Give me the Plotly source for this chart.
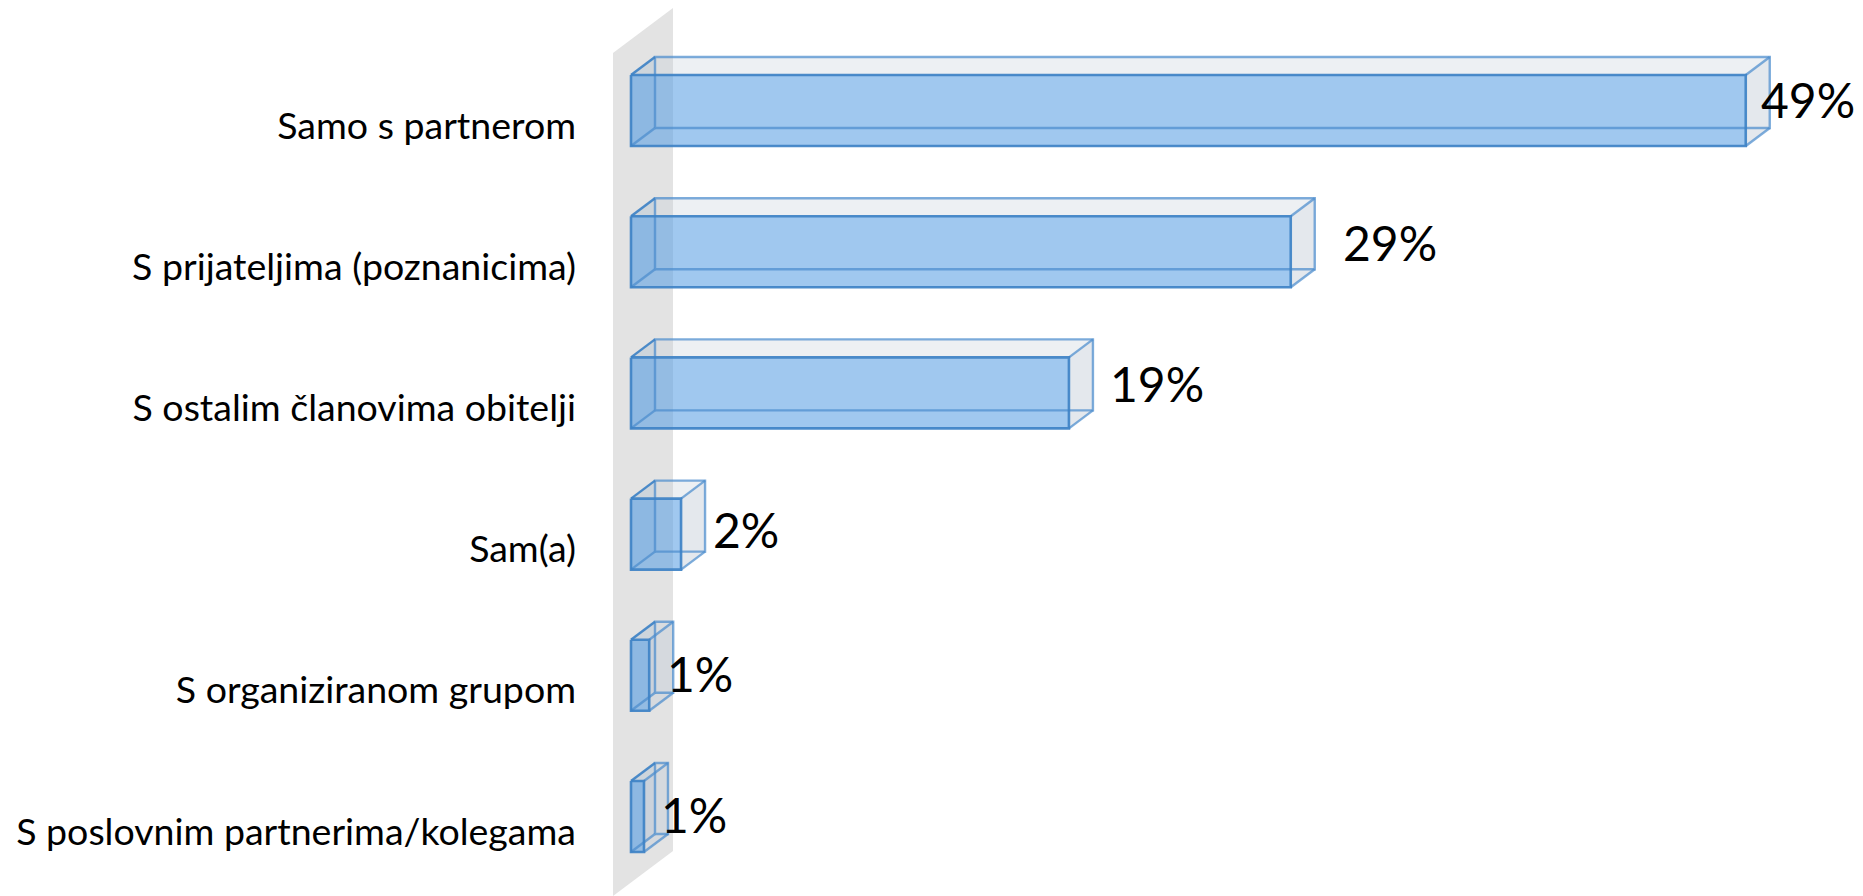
import plotly.graph_objects as go

categories = ["Samo s partnerom", "S prijateljima (poznanicima)", "S ostalim članovima obitelji",
              "Sam(a)", "S organiziranom grupom", "S poslovnim partnerima/kolegama"]
values = [49, 29, 19.25, 2.2, 0.8, 0.57]
value_labels = ["49%", "29%", "19%", "2%", "1%", "1%"]
label_shift_x = [13, 50, 39, 30, 16, 15]
label_shift_y = [-11, -9, -9, -5, -2, -2]

W, H = 1863, 896
PX = 22.75      # pixels per percent
PY = 141.2      # pixels per category
X0 = 631        # pixel of value 0
Y0 = 110.5      # pixel of first bar's centre
DX, DY = 24 / PX, 18 / PY       # 3D depth in data units
HALF = 35.5 / PY                # half bar height

FRONT = "rgba(91,160,228,0.58)"
TINT = "rgba(60,130,200,0.10)"
PALE = "rgba(195,205,215,0.30)"
SIDE = "rgba(195,205,215,0.45)"
EDGE = "rgba(62,130,198,0.92)"
BACK_EDGE = "rgba(75,140,205,0.72)"

fig = go.Figure()


def poly(xs, ys, fill):
    fig.add_trace(go.Scatter(x=xs + xs[:1], y=ys + ys[:1], mode="lines", fill="toself",
                             fillcolor=fill, line=dict(width=0), hoverinfo="skip", showlegend=False))


def edge(xs, ys, color, width):
    fig.add_trace(go.Scatter(x=xs, y=ys, mode="lines", line=dict(color=color, width=width),
                             hoverinfo="skip", showlegend=False))


# wall behind the bars
wx0, wx1 = -18 / PX, 42 / PX
wy_top = (53 - Y0) / PY
wy_bot = (896 - Y0) / PY
wdy = 45 / PY
poly([wx0, wx1, wx1, wx0], [wy_top, wy_top - wdy, wy_bot - wdy, wy_bot], "rgb(227,227,227)")

for i, v in enumerate(values):
    t, b = i - HALF, i + HALF
    poly([0, DX, DX, 0], [t, t - DY, b - DY, b], TINT)             # left face
    poly([0, v, v + DX, DX], [t, t, t - DY, t - DY], PALE)         # top
    poly([v, v + DX, v + DX, v], [t, t - DY, b - DY, b], SIDE)     # right
    poly([0, v, v, 0], [t, t, b, b], FRONT)                        # front
    edge([DX, DX, v + DX, v + DX, DX], [b - DY, t - DY, t - DY, b - DY, b - DY], BACK_EDGE, 2.4)
    edge([0, DX], [t, t - DY], EDGE, 2.4)
    edge([0, DX], [b, b - DY], BACK_EDGE, 2.4)
    edge([v, v + DX], [t, t - DY], BACK_EDGE, 2.4)
    edge([v, v + DX], [b, b - DY], BACK_EDGE, 2.4)
    edge([0, v, v, 0, 0], [t, t, b, b, t], EDGE, 2.6)
    fig.add_annotation(x=v, y=i, text=value_labels[i], showarrow=False, xanchor="left", yanchor="middle",
                       xshift=label_shift_x[i], yshift=-label_shift_y[i],
                       font=dict(family="Lato, Carlito, sans-serif", size=48, color="black"))

fig.update_layout(
    width=W, height=H, margin=dict(l=0, r=0, t=0, b=0),
    paper_bgcolor="white", plot_bgcolor="rgba(0,0,0,0)", showlegend=False,
    xaxis=dict(range=[-X0 / PX, (W - X0) / PX], visible=False, fixedrange=True),
    yaxis=dict(range=[(H - Y0) / PY, -Y0 / PY], anchor="free", position=576 / W, fixedrange=True,
               tickmode="array", tickvals=[i + 15 / PY for i in range(len(categories))],
               ticktext=categories, ticks="", showgrid=False, zeroline=False, showline=False,
               tickfont=dict(family="Lato, Carlito, sans-serif", size=37.5, color="black")),
)
fig.write_html("out.html", config={"displayModeBar": False},
               post_script="document.body.style.margin='0';document.body.style.overflow='hidden';")
